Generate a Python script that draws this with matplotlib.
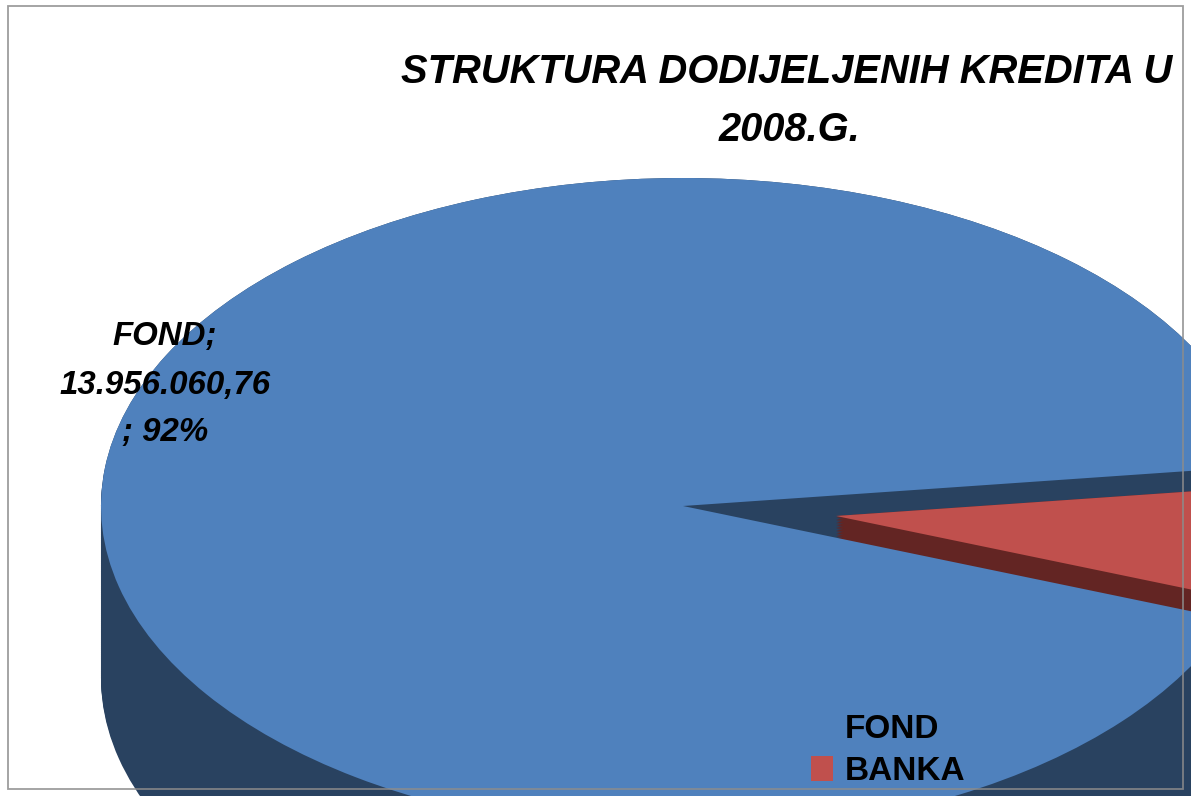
import numpy as np
import matplotlib
matplotlib.use("Agg")
import matplotlib.pyplot as plt
from matplotlib.patches import Rectangle

plt.rcParams['font.family'] = ['Liberation Sans', 'DejaVu Sans']

categories = ["FOND", "BANKA"]
values = [13956060.76, 1140000.0]
fond_label = ["FOND;", "13.956.060,76", "; 92%"]
title_lines = ["STRUKTURA DODIJELJENIH KREDITA U", "2008.G."]

BLUE, DARK_BLUE = "#4F81BD", "#294260"
RED, DARK_RED = "#C0504D", "#632523"
W, H = 1191, 796
CX, CY, RX, RY, DEPTH, RED_DEPTH = 683, 506, 582, 328, 172, 30
START, EXPLODE = 7.0, 0.2647

fig = plt.figure(figsize=(W / 100, H / 100), dpi=100, facecolor="white")
ax = fig.add_axes([0, 0, 1, 1])

def px(x, y):
    return x / W, 1 - y / H

common = dict(startangle=START, explode=[0, EXPLODE], wedgeprops=dict(linewidth=0))
for d in np.linspace(DEPTH, 0, 90) / RY:
    ax.pie(values, colors=[DARK_BLUE, "none"], center=(0, -d), **common)
for d in np.linspace(RED_DEPTH, 0, 20) / RY:
    ax.pie(values, colors=["none", DARK_RED], center=(0, -d), **common)
red_w, _ = ax.pie(values, colors=["none", RED], **common)
blue_w, _ = ax.pie(values, colors=[BLUE, "none"], **common)

ax.set_frame_on(False)
ax.set_aspect("auto")
ax.set_xlim(-CX / RX, (W - CX) / RX)
ax.set_ylim(-(H - CY) / RY, CY / RY)

ax.add_patch(Rectangle(px(8, 789), 1175 / W, 783 / H, transform=fig.transFigure,
                       fill=False, edgecolor="#8C8C8C", linewidth=1.3, alpha=0.85,
                       clip_on=False, zorder=20))

for (x, y, s) in [(787, 72, title_lines[0]), (789, 130, title_lines[1])]:
    fx, fy = px(x, y)
    fig.text(fx, fy, s, fontsize=28.7, fontweight="bold", fontstyle="italic",
             ha="center", va="center", color="black", zorder=30)

for y, s in zip([337, 385, 432], fond_label):
    fx, fy = px(165, y)
    fig.text(fx, fy, s, fontsize=23.8, fontweight="bold", fontstyle="italic",
             ha="center", va="center", color="black", zorder=30)

leg = ax.legend([blue_w[0], red_w[1]], categories, frameon=False,
                prop=dict(family="Liberation Sans", weight="bold", size=24),
                loc="lower left", bbox_to_anchor=px(811, 787), bbox_transform=fig.transFigure,
                borderpad=0, borderaxespad=0, handlelength=0.66, handleheight=0.75,
                handletextpad=0.36, labelspacing=0.32)
leg.set_zorder(30)
for t in leg.get_texts():
    t.set_color("black")

fig.savefig("out.png", dpi=100, facecolor="white")
